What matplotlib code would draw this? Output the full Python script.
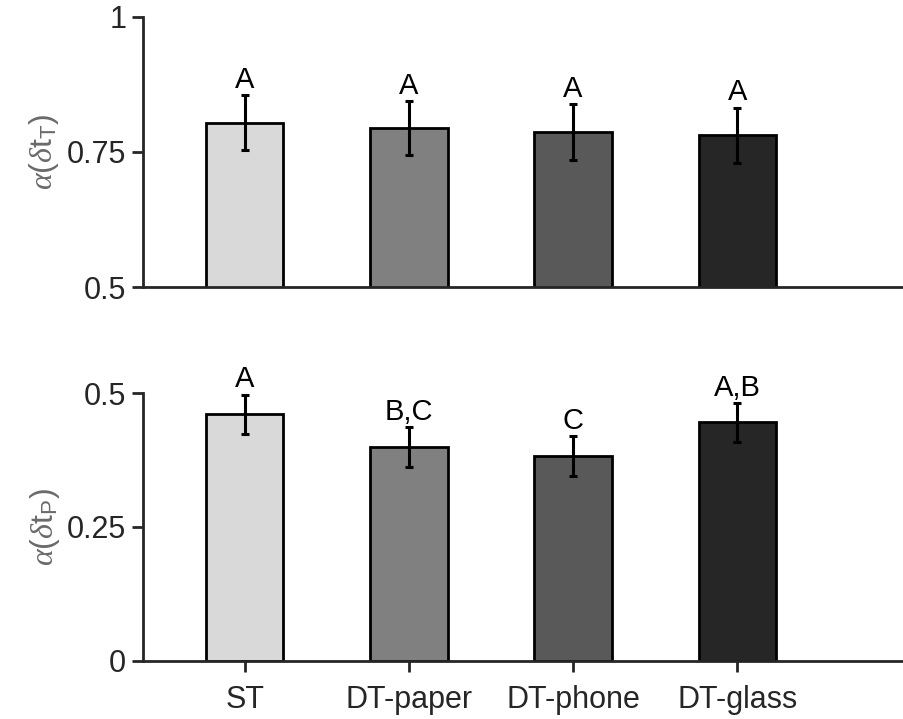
import matplotlib
matplotlib.use("Agg")
import matplotlib.pyplot as plt
import numpy as np

plt.rcParams['font.family'] = ['Liberation Sans', 'DejaVu Sans']
plt.rcParams['mathtext.fontset'] = 'custom'
plt.rcParams['mathtext.rm'] = 'Liberation Sans'
plt.rcParams['mathtext.it'] = 'Liberation Serif:italic'
plt.rcParams['mathtext.sf'] = 'Liberation Sans'

conditions = ['ST', 'DT-paper', 'DT-phone', 'DT-glass']
colors = ['#d9d9d9', '#808080', '#595959', '#262626']

# alpha(dt_T)
alpha_T = [0.804, 0.794, 0.787, 0.781]
alpha_T_err = [0.051, 0.050, 0.051, 0.051]
letters_T = ['A', 'A', 'A', 'A']

# alpha(dt_P)
alpha_P = [0.460, 0.399, 0.382, 0.445]
alpha_P_err = [0.037, 0.037, 0.037, 0.036]
letters_P = ['A', 'B,C', 'C', 'A,B']

dark = '#262626'
x = np.arange(1, len(conditions) + 1)

fig = plt.figure(figsize=(9.04, 7.19), dpi=100)
ax1 = fig.add_axes([0.1582, 0.6008, 0.8407, 0.3756])
ax2 = fig.add_axes([0.1582, 0.0807, 0.8407, 0.3727])

def panel(ax, vals, errs, letters, ylim, yticks, yticklabels, ylabel):
    ax.bar(x, vals, width=0.47, color=colors, edgecolor='black', linewidth=2, zorder=2)
    ax.errorbar(x, vals, yerr=errs, fmt='none', ecolor='black', elinewidth=2.2,
                capsize=2.8, capthick=2.2, zorder=3)
    for xi, v, e, lab in zip(x, vals, errs, letters):
        ax.annotate(lab, (xi, v + e), xytext=(0, 1), textcoords='offset points',
                    ha='center', va='bottom', fontsize=21, color='black')
    ax.set_xlim(0.38, 5.01)
    ax.set_ylim(*ylim)
    ax.set_yticks(yticks)
    ax.set_yticklabels(yticklabels)
    ax.set_ylabel(ylabel, fontsize=23, color='#6a6a6a', labelpad=4)
    for s in ['top', 'right']:
        ax.spines[s].set_visible(False)
    for s in ['left', 'bottom']:
        ax.spines[s].set_color(dark)
        ax.spines[s].set_linewidth(2)
        ax.spines[s].set_zorder(4)
    ax.tick_params(axis='y', direction='out', length=8, width=2, color=dark,
                   labelsize=22, labelcolor=dark, pad=4)

panel(ax1, alpha_T, alpha_T_err, letters_T, (0.5, 1.0), [0.5, 0.75, 1.0],
      ['0.5', '0.75', '1'], r'$\alpha(\delta\mathrm{t}_{\mathrm{T}})$')
ax1.set_xticks([])

panel(ax2, alpha_P, alpha_P_err, letters_P, (0.0, 0.5), [0, 0.25, 0.5],
      ['0', '0.25', '0.5'], r'$\alpha(\delta\mathrm{t}_{\mathrm{P}})$')
ax2.set_xticks(x)
ax2.set_xticklabels(conditions)
ax2.tick_params(axis='x', direction='out', length=8, width=2, color=dark,
                labelsize=22, labelcolor=dark, pad=9)

fig.savefig('out.png', dpi=100)
